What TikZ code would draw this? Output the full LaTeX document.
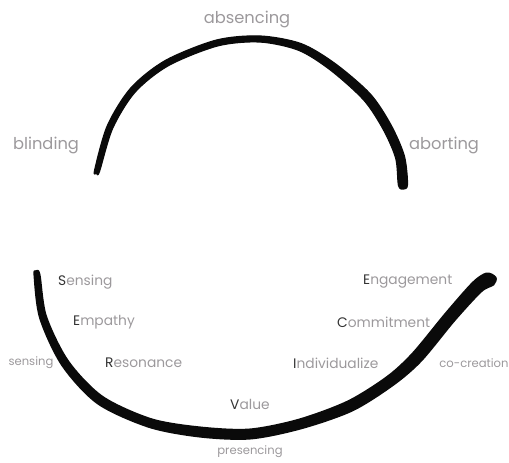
\documentclass[tikz,border=0pt]{standalone}
\usepackage{fontspec}
\setmainfont{Poppins}
\definecolor{lbl}{HTML}{9C999C}
\definecolor{ini}{HTML}{333333}
\definecolor{ink}{HTML}{0A0A0A}
\begin{document}
\begin{tikzpicture}[x=1pt,y=-1pt,
  big/.style={text=lbl,font=\fontsize{16.3}{16}\selectfont,inner sep=0pt},
  mid/.style={text=lbl,font=\fontsize{13.8}{14}\selectfont,inner sep=0pt},
  sml/.style={text=lbl,font=\fontsize{11.6}{12}\selectfont,inner sep=0pt},
  stroke/.style={fill=ink,draw=ink,line join=round}]
\useasboundingbox (0,0) rectangle (509,463);
% top arc
\fill[stroke,line width=1.2pt] plot[smooth cycle,tension=0.5] coordinates {
 (94.6,170.3) (107.3,125.8) (130.8,88.0) (165.5,60.4) (216.3,40.1) (260.1,36.0)
 (301.3,43.7) (335.4,63.8) (370.3,94.0) (390.9,124.8) (404.3,155.8) (407.5,184.5)
 (403.5,189) (398.5,185.5) (395.7,158.2) (383.1,129.2) (363.7,100.0) (330.6,70.2)
 (298.7,50.3) (259.9,42.0) (217.7,45.9) (168.5,65.6) (135.2,92.0) (112.7,128.2)
 (99.4,171.7) (96.5,173)};
% bottom curve
\fill[stroke,line width=2pt] plot[smooth cycle,tension=0.5] coordinates {
 (39.5,274.6) (45.9,316.1) (67.9,361.0) (102.3,396.7) (151.2,419.2) (200.5,427.5)
 (249.6,429.5) (298.8,419.7) (347.8,401.5) (387.1,377.0) (413.0,353.2) (445.8,313.4)
 (472.9,282.7) (486.6,273.5) (495.5,277.5) (493.4,284.5) (481.1,291.4) (454.2,320.6)
 (421.0,360.8) (392.9,385.0) (352.2,410.5) (301.2,428.3) (250.4,438.5) (199.5,436.5)
 (148.8,426.8) (97.7,403.3) (62.1,365.0) (40.1,317.9) (34.5,275.4) (36,271.5)};
% labels
\node[big] (absencing) at (247,19) {absencing};
\node[big] (blinding) at (46,145) {blinding};
\node[big] (aborting) at (444,145) {aborting};
\node[sml] (sensing) at (31,363) {sensing};
\node[sml] (presencing) at (250,452) {presencing};
\node[sml] (cocreation) at (474,363) {co-creation};
\node[mid,anchor=west] (S) at (58,282) {\textcolor{ini}{S}ensing};
\node[mid,anchor=west] (E) at (73,322) {\textcolor{ini}{E}mpathy};
\node[mid,anchor=west] (R) at (105,363) {\textcolor{ini}{R}esonance};
\node[mid,anchor=west] (V) at (230,404) {\textcolor{ini}{V}alue};
\node[mid,anchor=west] (I) at (293,363) {\textcolor{ini}{I}ndividualize};
\node[mid,anchor=west] (C) at (337,322) {\textcolor{ini}{C}ommitment};
\node[mid,anchor=west] (Eg) at (363,282) {\textcolor{ini}{E}ngagement};
\end{tikzpicture}
\end{document}
